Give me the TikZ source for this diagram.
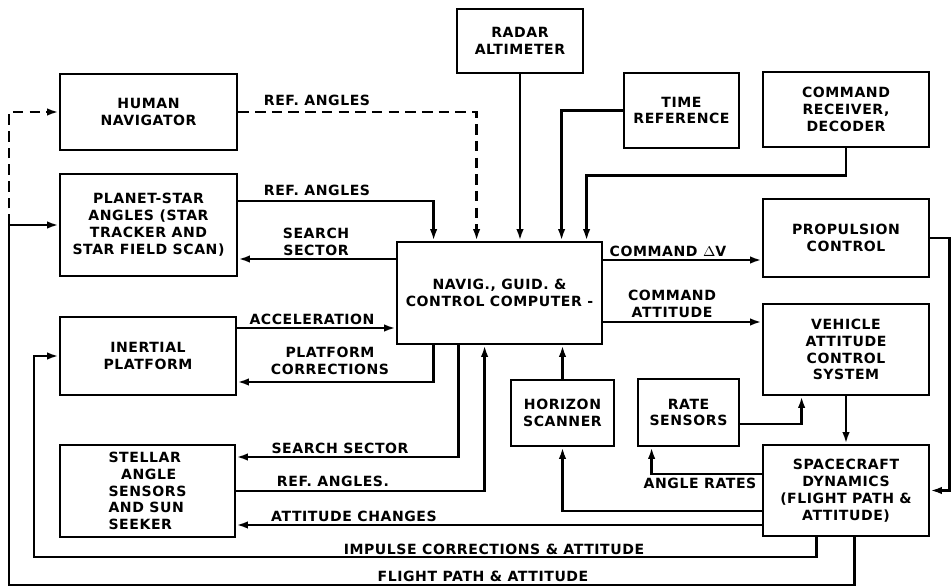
\documentclass[tikz,border=0pt]{standalone}
\usepackage{fontspec}
\setmainfont[LetterSpace=4]{DejaVu Sans}
\usepackage{tikz}
\usetikzlibrary{arrows.meta}

\begin{document}
\begin{tikzpicture}[x=0.02cm,y=-0.02cm,line width=1.6pt,
	box/.style={draw,rectangle,align=center,inner sep=2pt,font=\bfseries\fontsize{8}{9.6}\selectfont},
	lbl/.style={font=\bfseries\fontsize{8}{9.6}\selectfont,align=center,inner sep=0pt},
	arr/.style={-{Latex[length=6.5pt,width=4.2pt]}},
	dashline/.style={dash pattern=on 6pt off 3.5pt}]
	%\draw[help lines, thick] (0,0) grid[step=50] (951,587);
	\useasboundingbox (0,0) rectangle (951,587);
	\node[box,minimum width=3.54cm,minimum height=1.52cm] (human) at (148.5,112) {HUMAN\\NAVIGATOR};
	\node[box,minimum width=3.54cm,minimum height=2.04cm] (planet) at (148.5,225) {PLANET-STAR\\ANGLES (STAR\\TRACKER AND\\STAR FIELD SCAN)};
	\node[box,minimum width=3.52cm,minimum height=1.56cm] (inertial) at (148,356) {INERTIAL\\PLATFORM};
	\node[box,minimum width=3.50cm,minimum height=1.84cm,align=left] (stellar) at (147.5,491) {STELLAR\\\hspace*{0.9em}ANGLE\\SENSORS\\AND SUN\\SEEKER};
	\node[box,minimum width=2.52cm,minimum height=1.28cm] (radar) at (520,41) {RADAR\\ALTIMETER};
	\node[box,minimum width=2.30cm,minimum height=1.50cm] (timeref) at (681.5,110.5) {TIME\\REFERENCE};
	\node[box,minimum width=3.32cm,minimum height=1.50cm] (cmdrec) at (846,109.5) {COMMAND\\RECEIVER,\\DECODER};
	\node[box,minimum width=4.10cm,minimum height=2.04cm] (comp) at (499.5,293) {NAVIG., GUID. \&\\CONTROL COMPUTER -};
	\node[box,minimum width=3.32cm,minimum height=1.56cm] (propul) at (846,238) {PROPULSION\\CONTROL};
	\node[box,minimum width=3.32cm,minimum height=1.82cm] (vacs) at (846,349.5) {VEHICLE\\ATTITUDE\\CONTROL\\SYSTEM};
	\node[box,minimum width=2.06cm,minimum height=1.32cm] (horizon) at (562.5,413) {HORIZON\\SCANNER};
	\node[box,minimum width=2.02cm,minimum height=1.34cm] (rate) at (688.5,412.5) {RATE\\SENSORS};
	\node[box,minimum width=3.32cm,minimum height=1.82cm] (scdyn) at (846,490.5) {SPACECRAFT\\DYNAMICS\\(FLIGHT PATH \&\\ATTITUDE)};
	\coordinate (imp) at (34,557);
	\coordinate (fp) at (9,585);
	% inputs to the computer
	\draw[arr,dashline] (human.east) -| ([xshift=1.62cm]comp.north west);
	\draw[arr] ([yshift=0.48cm]planet.east) -| ([xshift=0.76cm]comp.north west);
	\draw[arr] (radar.south) -- (radar.south |- comp.north);
	\draw[arr] (timeref.west) -| ([xshift=3.32cm]comp.north west);
	\draw[arr] (cmdrec.south) -- ++(0,27) -| ([xshift=3.82cm]comp.north west);
	\draw[arr] ([yshift=0.56cm]inertial.east) coordinate (acc) -- (acc -| comp.west);
	\draw[arr] (stellar.east) -| ([xshift=1.78cm]comp.south west);
	\draw[arr] (horizon.north) -- (horizon.north |- comp.south);
	% outputs of the computer
	\draw[arr] ([yshift=0.68cm]comp.west) coordinate (ss) -- (ss -| planet.east);
	\draw[arr] ([xshift=0.76cm]comp.south west) |- ([yshift=-0.52cm]inertial.east);
	\draw[arr] ([xshift=1.26cm]comp.south west) |- ([yshift=0.68cm]stellar.east);
	\draw[arr] ([yshift=0.66cm]comp.east) coordinate (cv) -- (cv -| propul.west);
	\draw[arr] ([yshift=-0.58cm]comp.east) coordinate (ca) -- (ca -| vacs.west);
	% vehicle loop
	\draw[arr] (propul.east) -- ++(19,0) |- (scdyn.east);
	\draw[arr] (vacs.south) -- (scdyn.north);
	\draw[arr] ([yshift=-0.23cm]rate.east) -| ([xshift=0.8cm]vacs.south west);
	\draw[arr] ([yshift=0.33cm]scdyn.west) -| ([xshift=0.3cm]rate.south west);
	\draw[arr] ([yshift=-0.41cm]scdyn.west) -| (horizon.south);
	\draw[arr] ([yshift=-0.69cm]scdyn.west) coordinate (ac) -- (ac -| stellar.east);
	\draw[arr] ([xshift=1.1cm]scdyn.south west) |- (imp) |- (inertial.west);
	\draw[arr] ([xshift=1.86cm]scdyn.south west) |- (fp) |- (planet.west);
	\draw[arr,dashline] (fp |- planet.west) |- (human.west);
	% labels
	\node[lbl] (l1) at (317,100) {REF. ANGLES};
	\node[lbl] (l2) at (317,190) {REF. ANGLES};
	\node[lbl] (l3) at (316,242) {SEARCH\\SECTOR};
	\node[lbl] (l4) at (312,319) {ACCELERATION};
	\node[lbl] (l5) at (330,361) {PLATFORM\\CORRECTIONS};
	\node[lbl] (l6) at (340,448) {SEARCH SECTOR};
	\node[lbl] (l7) at (333,481) {REF. ANGLES.};
	\node[lbl] (l8) at (354,516) {ATTITUDE CHANGES};
	\node[lbl] (l9) at (494,549) {IMPULSE CORRECTIONS \& ATTITUDE};
	\node[lbl] (l10) at (483,576) {FLIGHT PATH \& ATTITUDE};
	\node[lbl] (l11) at (668,251) {COMMAND $\Delta$V};
	\node[lbl] (l12) at (672,304) {COMMAND\\ATTITUDE};
	\node[lbl] (l13) at (700,483) {ANGLE RATES};
\end{tikzpicture}
\end{document}
